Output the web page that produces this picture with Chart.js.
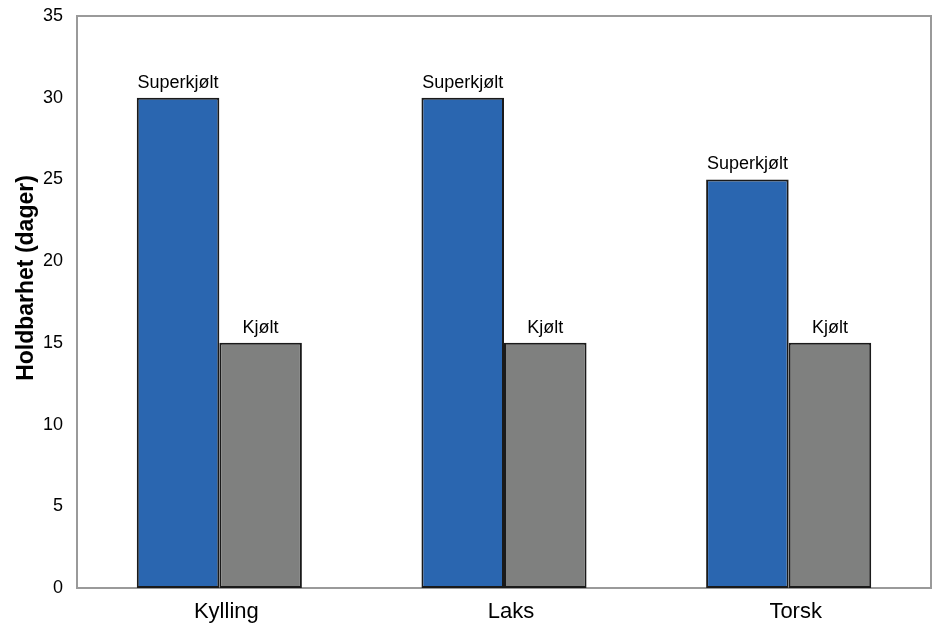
<!DOCTYPE html>
<html>
<head>
<meta charset="utf-8">
<script src="https://cdn.jsdelivr.net/npm/chart.js@4.4.0/dist/chart.umd.min.js"></script>
<style>
  html, body { margin: 0; padding: 0; background: #ffffff; }
  #wrap { width: 937px; height: 628px; }
</style>
</head>
<body>
<div id="wrap"><canvas id="c" width="937" height="628"></canvas></div>
<script>
// Shelf life per product, super-chilled vs. chilled storage
const categories = ['Kylling', 'Laks', 'Torsk'];
const superkjoltDays = [30, 30, 25];
const kjoltDays = [15, 15, 15];
const seriesNames = ['Superkjølt', 'Kjølt'];
const yTicks = [0, 5, 10, 15, 20, 25, 30, 35];
const yTitle = 'Holdbarhet (dager)';

const FONT = "Arial, 'Liberation Sans', sans-serif";

// Gray frame around the plotting area
const frame = {
  id: 'frame',
  beforeDatasetsDraw(chart) {
    const { ctx, chartArea: a } = chart;
    ctx.save();
    ctx.strokeStyle = '#9a9a9a';
    ctx.lineWidth = 2;
    ctx.strokeRect(a.left, a.top, a.right - a.left, a.bottom - a.top);
    ctx.restore();
  }
};

// Series name written above each bar
const barNames = {
  id: 'barNames',
  afterDatasetsDraw(chart) {
    const { ctx } = chart;
    ctx.save();
    ctx.fillStyle = '#000000';
    ctx.font = '18px ' + FONT;
    ctx.textAlign = 'center';
    ctx.textBaseline = 'alphabetic';
    chart.data.datasets.forEach((ds, i) => {
      chart.getDatasetMeta(i).data.forEach(bar => {
        ctx.fillText(ds.label, bar.x, bar.y - 10);
      });
    });
    ctx.restore();
  }
};

// Rotated value-axis title
const axisTitle = {
  id: 'axisTitle',
  afterDraw(chart) {
    const { ctx } = chart;
    ctx.save();
    ctx.translate(33, 278);
    ctx.rotate(-Math.PI / 2);
    ctx.fillStyle = '#000000';
    ctx.font = 'bold 23px ' + FONT;
    ctx.textAlign = 'center';
    ctx.textBaseline = 'alphabetic';
    ctx.fillText(yTitle, 0, 0);
    ctx.restore();
  }
};

new Chart(document.getElementById('c'), {
  type: 'bar',
  data: {
    labels: categories,
    datasets: [
      {
        label: seriesNames[0],
        data: superkjoltDays,
        backgroundColor: '#2a66b0',
        borderColor: '#1a1a1a',
        borderWidth: 2,
        borderSkipped: false,
        categoryPercentage: 0.58,
        barPercentage: 1.0
      },
      {
        label: seriesNames[1],
        data: kjoltDays,
        backgroundColor: '#7f807f',
        borderColor: '#1a1a1a',
        borderWidth: 2,
        borderSkipped: false,
        categoryPercentage: 0.58,
        barPercentage: 1.0
      }
    ]
  },
  options: {
    responsive: false,
    animation: false,
    devicePixelRatio: 1,
    layout: { padding: { left: 0, right: 6, top: 16, bottom: 0 } },
    plugins: {
      legend: { display: false },
      tooltip: { enabled: false },
      title: { display: false }
    },
    scales: {
      x: {
        grid: { display: false, drawTicks: false },
        border: { display: false },
        ticks: {
          color: '#000000',
          font: { family: FONT, size: 22 },
          padding: 11,
          labelOffset: 7,
          maxRotation: 0
        },
        afterFit(scale) {
          scale.height = 40;
          scale.paddingLeft = 0;
          scale.paddingRight = 0;
        }
      },
      y: {
        min: 0,
        max: 35,
        afterBuildTicks(scale) { scale.ticks = yTicks.map(v => ({ value: v })); },
        grid: { display: false, drawTicks: false },
        border: { display: false },
        ticks: {
          color: '#000000',
          font: { family: FONT, size: 18 },
          padding: 14
        },
        afterFit(scale) {
          scale.width = 77;
          scale.paddingTop = 0;
          scale.paddingBottom = 0;
        }
      }
    }
  },
  plugins: [frame, barNames, axisTitle]
});
</script>
</body>
</html>
